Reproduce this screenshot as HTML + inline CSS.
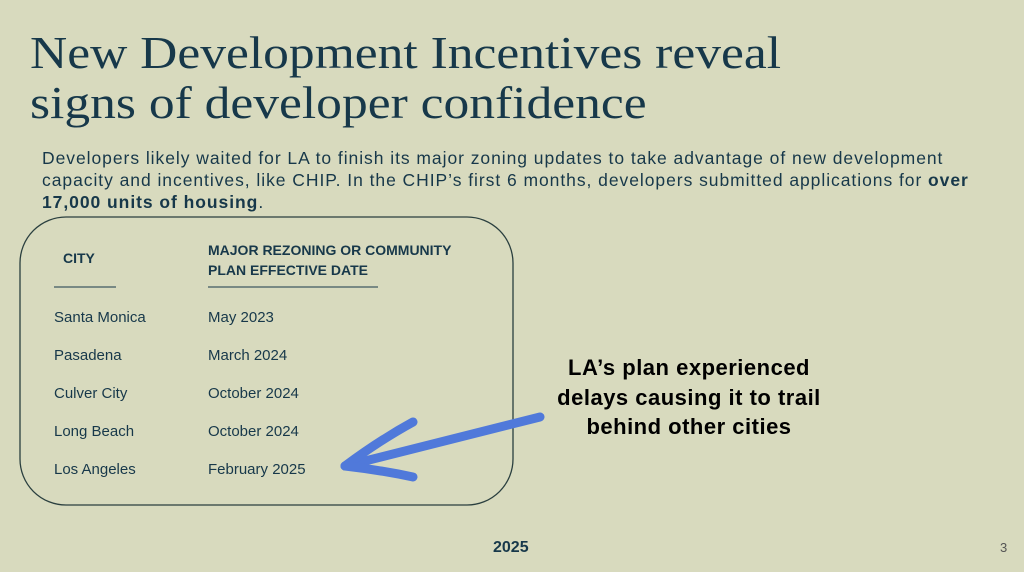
<!DOCTYPE html>
<html><head><style>
body{margin:0;width:1024px;height:572px;background:#d8dabe;position:relative;overflow:hidden;font-family:"Liberation Sans",sans-serif;color:#17384a}
.t{position:absolute;left:30px;top:28px;font-family:"Liberation Serif",serif;font-size:46px;line-height:50px;white-space:nowrap;transform:scaleX(1.12);transform-origin:0 0}
.p{position:absolute;left:42px;top:147px;font-size:17.5px;line-height:22px;white-space:nowrap;letter-spacing:0.95px}
.a{position:absolute;font-size:15px;white-space:nowrap}
.h{font-weight:bold;font-size:14px;line-height:20px}
.c{position:absolute;left:489px;top:353px;width:400px;text-align:center;font-weight:bold;font-size:22px;line-height:29.5px;color:#000;white-space:nowrap;letter-spacing:0.5px}
</style></head><body>
<div class="t">New Development Incentives reveal<br>signs of developer confidence</div>
<div class="p">Developers likely waited for LA to finish its major zoning updates to take advantage of new development<br>capacity and incentives, like CHIP. In the CHIP’s first 6 months, developers submitted applications for <b>over</b><br><b>17,000 units of housing</b>.</div>
<svg style="position:absolute;left:0;top:0" width="1024" height="572">
<rect x="20" y="217" width="493" height="288" rx="46" fill="none" stroke="#2a3f3f" stroke-width="1.3"/>
<line x1="54" y1="287" x2="116" y2="287" stroke="#17384a" stroke-width="1"/>
<line x1="208" y1="287" x2="378" y2="287" stroke="#17384a" stroke-width="1"/>
<g stroke="#5079da" stroke-linecap="round" fill="none" stroke-width="9">
<path d="M540 417 Q470 435 345 466"/>
<path d="M413 422 Q380 440 345 466"/>
<path d="M345 466 Q380 470 413 477"/>
</g>
</svg>
<div class="a h" style="left:63px;top:248px">CITY</div>
<div class="a h" style="left:208px;top:240px">MAJOR REZONING OR COMMUNITY<br>PLAN EFFECTIVE DATE</div>
<div class="a" style="left:54px;top:309px">Santa Monica</div><div class="a" style="left:208px;top:309px">May 2023</div>
<div class="a" style="left:54px;top:347px">Pasadena</div><div class="a" style="left:208px;top:347px">March 2024</div>
<div class="a" style="left:54px;top:385px">Culver City</div><div class="a" style="left:208px;top:385px">October 2024</div>
<div class="a" style="left:54px;top:423px">Long Beach</div><div class="a" style="left:208px;top:423px">October 2024</div>
<div class="a" style="left:54px;top:461px">Los Angeles</div><div class="a" style="left:208px;top:461px">February 2025</div>
<div class="c">LA’s plan experienced<br>delays causing it to trail<br>behind other cities</div>
<div class="a" style="left:493px;top:539px;font-weight:bold;font-size:16px">2025</div>
<div class="a" style="left:1000px;top:540px;font-size:13px;color:#555">3</div>
</body></html>
